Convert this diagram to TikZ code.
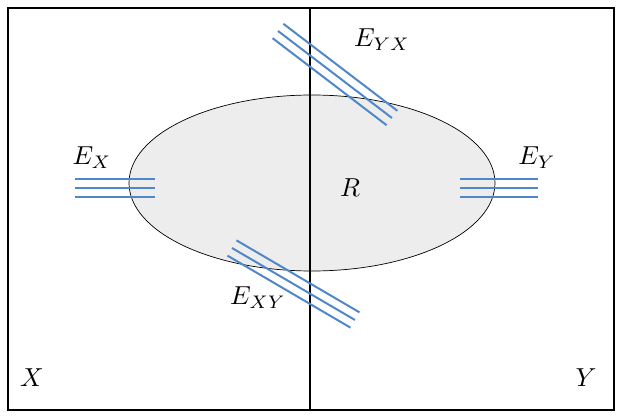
\documentclass[tikz,border=0pt]{standalone}
\usetikzlibrary{shapes.geometric,calc}
\begin{document}
\begin{tikzpicture}[x=1pt,y=-1pt,
  bl/.style={draw={rgb,255:red,80;green,135;blue,200},line width=2pt},
  lbl/.style={scale=2.6}]
\useasboundingbox (0,0) rectangle (622,420);
\draw[line width=2pt] (8,8) rectangle (614,410);
\node[draw,fill=black!7,ellipse,minimum width=366pt,minimum height=176pt,line width=0.7pt] (R) at (312,183) {};
\draw[line width=2pt] (310,8) -- (310,410);
\foreach \d in {-9,0,9}{
  \draw[bl] (75,188+\d) -- (155,188+\d);
  \draw[bl] (460,188+\d) -- (538,188+\d);
  \draw[bl] ($(278,31)+(0.6*\d,-0.8*\d)$) -- ($(392,118)+(0.6*\d,-0.8*\d)$);
  \draw[bl] ($(232,248)+(0.5*\d,-0.85*\d)$) -- ($(355,320)+(0.5*\d,-0.85*\d)$);
}
\node[lbl] (ex) at (92,158) {$E_X$};
\node[lbl] (ey) at (537,158) {$E_Y$};
\node[lbl] (eyx) at (382,40) {$E_{YX}$};
\node[lbl] (exy) at (258,298) {$E_{XY}$};
\node[lbl] (r) at (350,188) {$R$};
\node[lbl] (x) at (32,378) {$X$};
\node[lbl] (y) at (586,378) {$Y$};
\end{tikzpicture}
\end{document}
